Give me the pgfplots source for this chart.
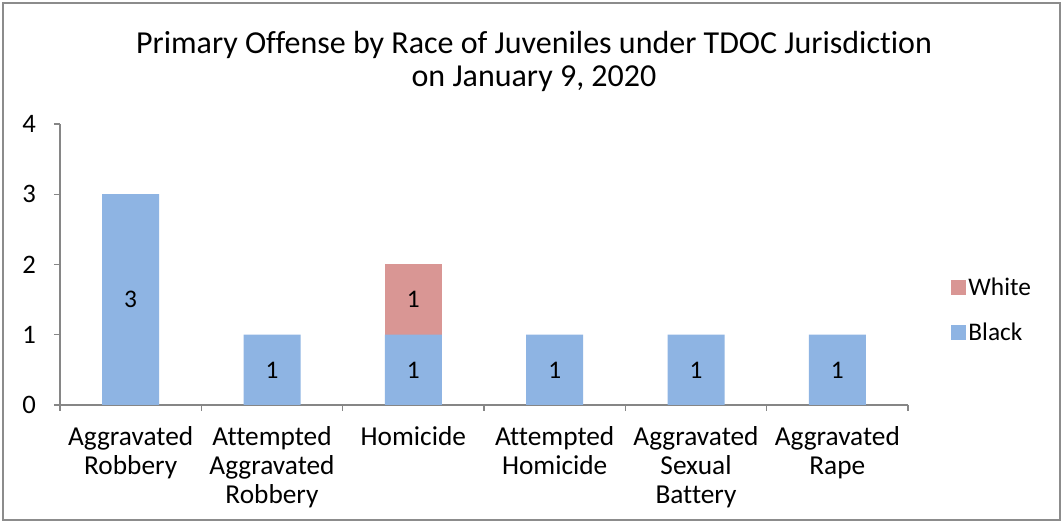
\documentclass[border=0pt]{standalone}
\usepackage{pgfplots}
\pgfplotsset{compat=1.18}
\usepackage{pgfplotstable}
\usepackage{fontspec}
\setmainfont{Carlito}[Ligatures=NoCommon]

\definecolor{blackbar}{HTML}{8EB4E3}
\definecolor{whitebar}{HTML}{D99694}
\definecolor{axisgray}{HTML}{868686}
\definecolor{framegray}{HTML}{8C8C8C}

% offenses in chart order, counts by race
\pgfplotstableread{
x black white
0 3 0
1 1 0
2 1 1
3 1 0
4 1 0
5 1 0
}\offense

\begin{document}
\begin{tikzpicture}
% page: 1063x523 px at 0.75pt per px, axis origin at px (60,405)
\fill[white] (-45pt,-88.5pt) rectangle (752.25pt,303.75pt);
\draw[framegray, line width=1.5pt] (-42.75pt,-86.25pt) rectangle (750pt,301.5pt);

\node[align=center, font=\fontsize{24}{24.75}\selectfont] at (355.5pt,257.5pt)
  {Primary Offense by Race of Juveniles under TDOC Jurisdiction\\on January 9, 2020};

\begin{axis}[
  at={(0,0)}, anchor=south west,
  scale only axis, width=636pt, height=210.75pt,
  ybar stacked, bar width=42.75pt,
  xmin=-0.5, xmax=5.5, ymin=0, ymax=4,
  axis x line*=bottom, axis y line*=left,
  axis line style={draw=axisgray, line width=0.9pt, -},
  tick style={draw=axisgray, line width=0.9pt},
  tick align=outside,
  ytick={0,1,2,3,4},
  major tick length=4.5pt,
  xtick={0,...,5},
  x tick style={draw=none},
  minor xtick={-0.5,0.5,...,5.5},
  minor x tick style={draw=axisgray, line width=0.9pt},
  minor tick length=4.5pt,
  xticklabels={{Aggravated\\Robbery},{Attempted\\Aggravated\\Robbery},{Homicide},
    {Attempted\\Homicide},{Aggravated\\Sexual\\Battery},{Aggravated\\Rape}},
  xticklabel style={align=center, anchor=north, yshift=-8pt,
    font=\fontsize{20.5}{21.75}\selectfont},
  yticklabel style={font=\fontsize{20}{22}\selectfont, xshift=-10pt},
  /pgf/number format/assume math mode=true,
  legend style={draw=none, fill=none, at={(1.0505,0.338)}, anchor=west,
    font=\fontsize{19}{21.75}\selectfont, row sep=15pt, inner sep=0pt,
    nodes={inner sep=2pt}},
  legend cell align=left,
  reverse legend,
  legend image code/.code={\fill[#1] (0pt,-5.5pt) rectangle (11pt,5.5pt);},
  nodes near coords={\pgfmathprintnumber{\rawy}},
  every node near coord/.append style={font=\fontsize{19}{20}\selectfont,
    text=black, anchor=center},
]
\addplot+[draw=none, fill=blackbar,
  visualization depends on={\thisrow{black}\as\rawy}]
  table[x=x, y=black] {\offense};
\addplot+[draw=none, fill=whitebar,
  visualization depends on={\thisrow{white}\as\rawy},
  nodes near coords={\ifdim\rawy pt>0pt\pgfmathprintnumber{\rawy}\fi}]
  table[x=x, y=white] {\offense};
\legend{Black,White}
\end{axis}
\end{tikzpicture}
\end{document}
